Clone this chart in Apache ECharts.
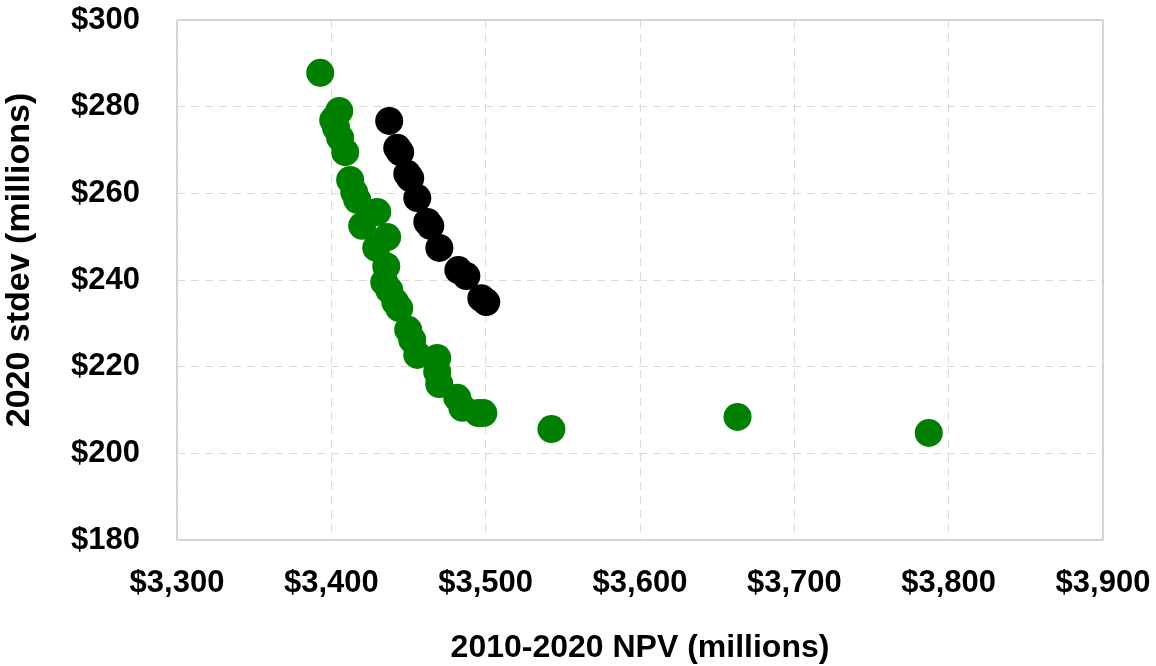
<!DOCTYPE html>
<html>
<head>
<meta charset="utf-8">
<script src="https://cdn.jsdelivr.net/npm/echarts@6/dist/echarts.min.js"></script>
<style>html,body{margin:0;padding:0;background:#fff}#c{width:1156px;height:666px}</style>
</head>
<body>
<div id="c"></div>
<script>
var greenNPV = [3392.8,3405.1,3401.2,3403.1,3405.7,3409.0,3412.2,3414.8,3416.8,3429.7,3420.0,3436.2,3429.1,3435.6,3434.3,3437.5,3441.4,3444.0,3449.8,3452.4,3455.7,3468.6,3468.6,3469.9,3481.6,3484.9,3495.2,3498.5,3542.6,3663.2,3787.1];
var greenStdev = [287.8,279.0,276.9,275.1,272.8,269.5,263.1,260.3,258.5,255.7,252.5,249.9,247.4,243.2,239.5,237.7,234.9,233.5,228.5,226.2,222.7,222.0,218.8,216.0,212.8,210.5,209.3,209.3,205.6,208.4,204.7];
var blackNPV = [3437.5,3442.7,3444.6,3449.2,3451.1,3455.7,3462.2,3464.1,3470.0,3482.3,3487.5,3497.2,3500.4];
var blackStdev = [276.7,270.5,269.5,264.5,263.5,258.9,253.4,252.5,247.4,242.3,240.9,235.8,234.9];
var xTitle = '2010-2020 NPV (millions)';
var yTitle = '2020 stdev (millions)';

function pairs(xs, ys){ return xs.map(function(x,i){return [x, ys[i]];}); }
function money(v){ return '$' + v.toLocaleString('en-US'); }

var font = 'Liberation Sans, Arial, sans-serif';
var chart = echarts.init(document.getElementById('c'));
chart.setOption({
  animation: false,
  grid: {left: 177, top: 20, right: 53, bottom: 126, containLabel: false, outerBoundsMode: 'none',
         show: true, borderColor: '#a6a6a6', borderWidth: 1},
  xAxis: {
    type: 'value', min: 3300, max: 3900, interval: 100,
    name: xTitle, nameLocation: 'middle', nameGap: 92,
    nameTextStyle: {fontFamily: font, fontWeight: 'bold', fontSize: 32, color: '#000'},
    axisLine: {show: false}, axisTick: {show: false},
    axisLabel: {formatter: money, fontFamily: font, fontWeight: 'bold', fontSize: 31, color: '#000', margin: 28},
    splitLine: {show: true, lineStyle: {type: [8, 6], color: '#d9d9d9', width: 1}}
  },
  yAxis: {
    type: 'value', min: 180, max: 300, interval: 20,
    name: yTitle, nameLocation: 'middle', nameGap: 140,
    nameTextStyle: {fontFamily: font, fontWeight: 'bold', fontSize: 34, color: '#000', padding: [0, 0, 0, 40]},
    axisLine: {show: false}, axisTick: {show: false},
    axisLabel: {formatter: money, fontFamily: font, fontWeight: 'bold', fontSize: 31, color: '#000', margin: 37},
    splitLine: {show: true, lineStyle: {type: [8, 6], color: '#d9d9d9', width: 1}}
  },
  series: [
    {type: 'scatter', data: pairs(greenNPV, greenStdev), symbolSize: 28, itemStyle: {color: '#008000', opacity: 1}},
    {type: 'scatter', data: pairs(blackNPV, blackStdev), symbolSize: 28, itemStyle: {color: '#000000', opacity: 1}}
  ]
});
</script>
</body>
</html>
